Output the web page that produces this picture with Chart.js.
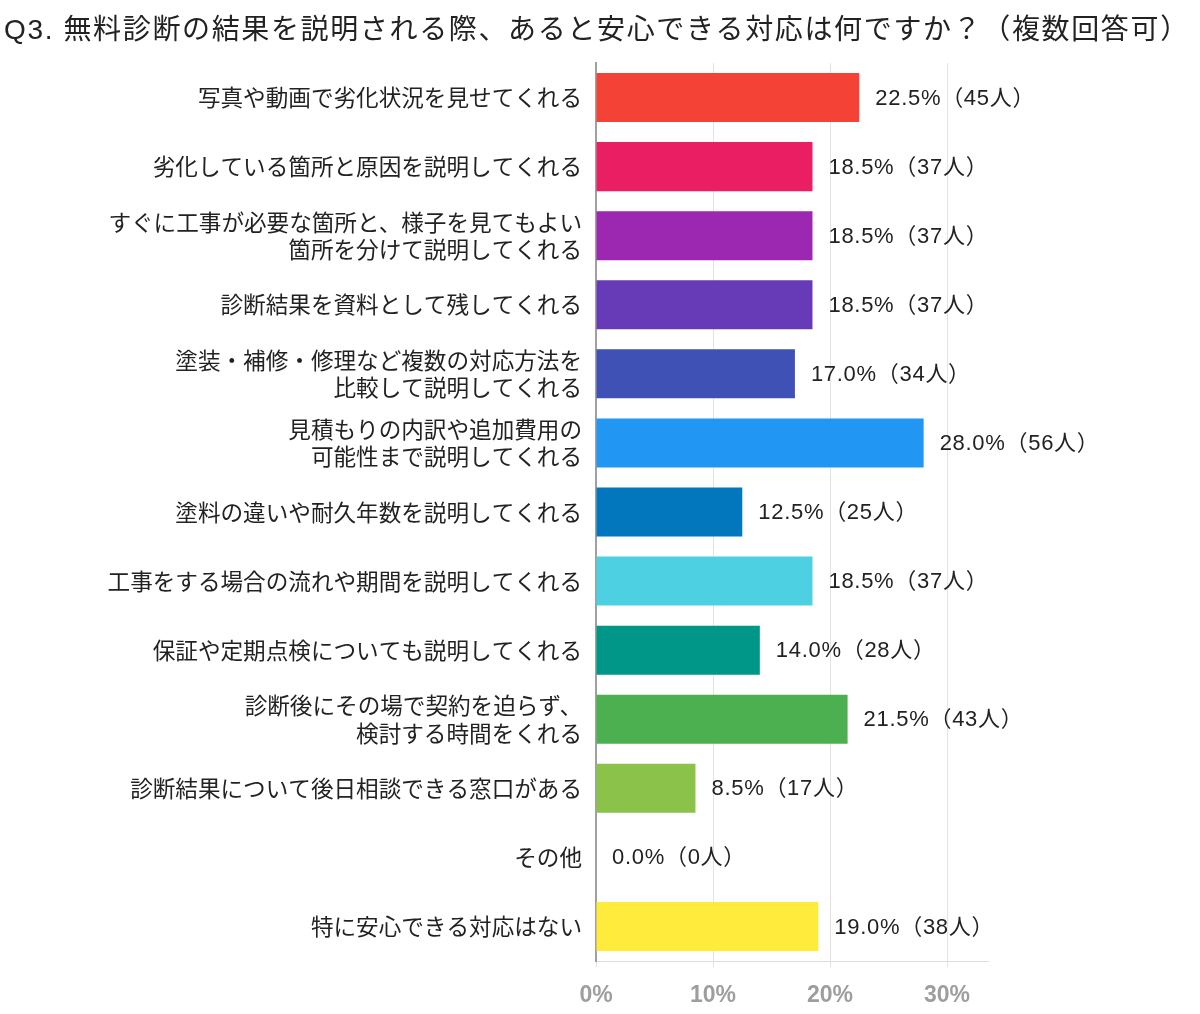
<!DOCTYPE html>
<html>
<head>
<meta charset="utf-8">
<script src="https://cdn.jsdelivr.net/npm/chart.js@4/dist/chart.umd.min.js"></script>
<style>
  html, body { margin: 0; padding: 0; background: #fff; }
  #wrap { width: 1200px; height: 1014px; }
</style>
</head>
<body>
<div id="wrap"><canvas id="q3chart"></canvas></div>
<script>
Chart.defaults.font.family = "'Noto Sans CJK JP', 'Noto Sans', sans-serif";
Chart.defaults.color = "#222";

const titleText = 'Q3. 無料診断の結果を説明される際、あると安心できる対応は何ですか？（複数回答可）';

const categories = [
  '写真や動画で劣化状況を見せてくれる',
  '劣化している箇所と原因を説明してくれる',
  ['すぐに工事が必要な箇所と、様子を見てもよい', '箇所を分けて説明してくれる'],
  '診断結果を資料として残してくれる',
  ['塗装・補修・修理など複数の対応方法を', '比較して説明してくれる'],
  ['見積もりの内訳や追加費用の', '可能性まで説明してくれる'],
  '塗料の違いや耐久年数を説明してくれる',
  '工事をする場合の流れや期間を説明してくれる',
  '保証や定期点検についても説明してくれる',
  ['診断後にその場で契約を迫らず、', '検討する時間をくれる'],
  '診断結果について後日相談できる窓口がある',
  'その他',
  '特に安心できる対応はない'
];
const percents = [22.5, 18.5, 18.5, 18.5, 17.0, 28.0, 12.5, 18.5, 14.0, 21.5, 8.5, 0.0, 19.0];
const counts   = [45, 37, 37, 37, 34, 56, 25, 37, 28, 43, 17, 0, 38];
const barColors = ['#F44336', '#E91E63', '#9C27B0', '#673AB7', '#3F51B5', '#2196F3', '#0277BD',
                   '#4DD0E1', '#009688', '#4CAF50', '#8BC34A', '#9E9E9E', '#FFEB3B'];
const axisTicks = [0, 10, 20, 30];

// タイトル（全幅に広げて描く）
const wideTitle = {
  id: 'wideTitle',
  afterDraw(chart) {
    const ctx = chart.ctx;
    ctx.save();
    ctx.font = "28px 'Liberation Sans', 'Noto Sans CJK JP', sans-serif";
    ctx.fillStyle = '#222';
    ctx.textBaseline = 'middle';
    ctx.textAlign = 'left';
    const n = [...titleText].length;
    const w = ctx.measureText(titleText).width;
    const target = 1186;
    if ('letterSpacing' in ctx && w < target) {
      ctx.letterSpacing = ((target - w) / n).toFixed(2) + 'px';
    }
    ctx.fillText(titleText, 4, 31);
    ctx.restore();
  }
};

// 棒の右に「xx.x%（n人）」を描く
const valueLabels = {
  id: 'valueLabels',
  afterDatasetsDraw(chart) {
    const ctx = chart.ctx;
    const meta = chart.getDatasetMeta(0);
    ctx.save();
    ctx.font = "22px 'Liberation Sans', 'Noto Sans CJK JP', sans-serif";
    if ('letterSpacing' in ctx) ctx.letterSpacing = '0.7px';
    ctx.fillStyle = '#222';
    ctx.textBaseline = 'middle';
    ctx.textAlign = 'left';
    meta.data.forEach((bar, i) => {
      const txt = percents[i].toFixed(1) + '%（' + counts[i] + '人）';
      ctx.fillText(txt, bar.x + 16, bar.y + 1);
    });
    ctx.restore();
  }
};

new Chart(document.getElementById('q3chart'), {
  type: 'bar',
  data: {
    labels: categories,
    datasets: [{
      data: percents,
      backgroundColor: barColors,
      borderWidth: 0,
      barPercentage: 0.71,
      categoryPercentage: 1.0
    }]
  },
  options: {
    indexAxis: 'y',
    responsive: true,
    maintainAspectRatio: false,
    animation: false,
    layout: { padding: { left: 4, right: 212, top: 63, bottom: 0 } },
    plugins: {
      legend: { display: false },
      tooltip: { enabled: false },
      title: { display: false }
    },
    scales: {
      x: {
        min: 0,
        max: 33.5,
        afterBuildTicks(axis) {
          axis.ticks = axisTicks.map(v => ({ value: v }));
        },
        afterFit(axis) { axis.height = 53; },
        ticks: {
          callback: v => v + '%',
          color: '#9e9e9e',
          font: { family: "'Liberation Sans', sans-serif", size: 23, weight: 'bold' },
          padding: 15
        },
        grid: { color: '#e3e3e3', tickLength: 6 },
        border: { color: '#dddddd' }
      },
      y: {
        afterFit(axis) { axis.width = 592; },
        ticks: {
          color: '#222',
          font: { size: 22.6, lineHeight: 1.22 },
          padding: 6
        },
        grid: { display: false },
        border: { color: '#a0a0a0', width: 2 }
      }
    }
  },
  plugins: [valueLabels, wideTitle]
});
</script>
</body>
</html>
